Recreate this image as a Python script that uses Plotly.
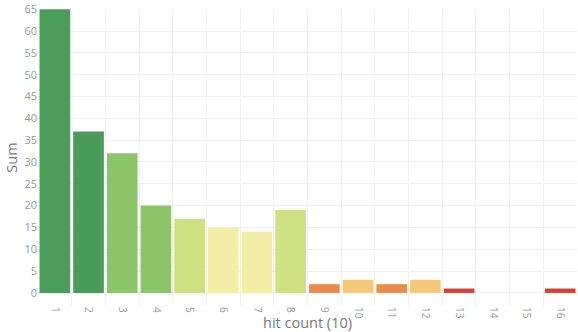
import plotly.graph_objects as go

# Hit-count buckets and their summed totals
categories = [str(i) for i in range(1, 17)]
sums = [65, 37, 32, 20, 17, 15, 14, 19, 2, 3, 2, 3, 1, 0, 0, 1]
bar_colors = [
    "#4c9d5a", "#4a9b57", "#8cc569", "#8cc569",
    "#cfe183", "#f3eea6", "#f3eea6", "#cfe183",
    "#e98b4a", "#f4c77b", "#e98b4a", "#f4c77b",
    "#d4412e", "#d4412e", "#d4412e", "#d4412e",
]
y_ticks = list(range(0, 66, 5))

fig = go.Figure(
    go.Bar(
        x=categories,
        y=sums,
        marker=dict(color=bar_colors, line=dict(width=0)),
    )
)

fig.update_layout(
    width=578,
    height=332,
    margin=dict(l=38, r=1, t=5, b=26),
    paper_bgcolor="white",
    plot_bgcolor="white",
    bargap=0.09,
    showlegend=False,
    font=dict(family="Open Sans, Noto Sans, sans-serif", color="#999999", size=10),
)

fig.update_xaxes(
    type="category",
    tickangle=90,
    tickson="boundaries",
    ticks="",
    showgrid=True,
    gridcolor="#f0f0f0",
    gridwidth=1,
    showline=False,
    tickfont=dict(size=10, color="#999999"),
    title=dict(text="hit count (10)", font=dict(size=14.5, color="#777777"), standoff=2),
)

fig.update_yaxes(
    range=[-3, 65.05],
    tickvals=y_ticks,
    ticks="",
    ticklabeloverflow="allow",
    showgrid=True,
    gridcolor="#f0f0f0",
    gridwidth=1,
    zeroline=True,
    zerolinecolor="#f0f0f0",
    zerolinewidth=1,
    showline=False,
    tickfont=dict(size=11, color="#999999"),
    title=dict(text="Sum", font=dict(size=14.5, color="#777777"), standoff=3),
)

fig.write_html("out.html")
